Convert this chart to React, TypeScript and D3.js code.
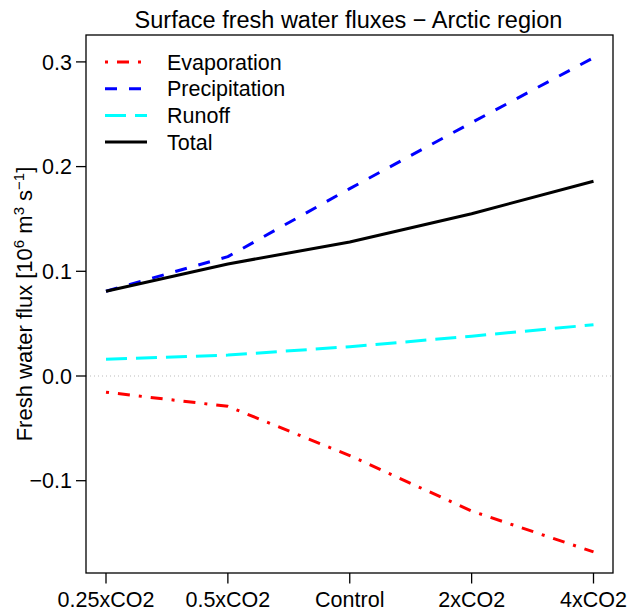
import React from "react";
import * as d3 from "d3";

const scenarios = ["0.25xCO2", "0.5xCO2", "Control", "2xCO2", "4xCO2"];
const evaporation = [-0.0155, -0.029, -0.076, -0.129, -0.168];
const precipitation = [0.081, 0.114, 0.179, 0.242, 0.304];
const runoff = [0.016, 0.02, 0.028, 0.038, 0.049];
const total = [0.081, 0.107, 0.128, 0.155, 0.186];
const yTicks = [-0.1, 0.0, 0.1, 0.2, 0.3];

const series = [
  { name: "Evaporation", values: evaporation, color: "#ff0000", dash: "3,9,12,9" },
  { name: "Precipitation", values: precipitation, color: "#0000ff", dash: "12,12" },
  { name: "Runoff", values: runoff, color: "#00ffff", dash: "21,9" },
  { name: "Total", values: total, color: "#000000", dash: null },
];

const W = 630;
const H = 615;
const left = 86;
const right = 613;
const top = 35;
const bottom = 573;

const App: React.FC = () => {
  const x = d3.scalePoint<string>().domain(scenarios).range([106, 593.5]);
  const y = d3.scaleLinear().domain([0, 0.1]).range([376, 271.3]);

  const line = d3
    .line<number>()
    .x((_, i) => x(scenarios[i]) as number)
    .y((d) => y(d));

  const font = "'Liberation Sans', Arial, Helvetica, sans-serif";

  return (
    <svg
      width={W}
      height={H}
      style={{ position: "absolute", left: 0, top: 0, fontFamily: font }}
    >
      <rect width={W} height={H} fill="#fff" />
      <text x={348.5} y={27.5} textAnchor="middle" fontSize={23.5}>
        Surface fresh water fluxes − Arctic region
      </text>

      {/* zero line */}
      <line
        x1={left}
        x2={right}
        y1={y(0)}
        y2={y(0)}
        stroke="#bbbbbb"
        strokeWidth={1}
        strokeDasharray="1,3"
      />

      {series.map((s) => (
        <path
          key={s.name}
          d={line(s.values) || ""}
          fill="none"
          stroke={s.color}
          strokeWidth={3}
          strokeDasharray={s.dash || undefined}
          strokeLinecap="butt"
          strokeLinejoin="round"
        />
      ))}

      <rect
        x={left}
        y={top}
        width={right - left}
        height={bottom - top}
        fill="none"
        stroke="#000"
        strokeWidth={1.3}
      />

      {/* y axis */}
      {yTicks.map((t) => (
        <g key={t} transform={`translate(0,${y(t)})`}>
          <line x1={left - 10} x2={left} stroke="#000" strokeWidth={1.3} />
          <text x={left - 14} dy="0.36em" textAnchor="end" fontSize={21.5}>
            {t < 0 ? "−" + d3.format(".1f")(-t) : d3.format(".1f")(t)}
          </text>
        </g>
      ))}

      {/* x axis */}
      {scenarios.map((c) => (
        <g key={c} transform={`translate(${x(c)},0)`}>
          <line y1={bottom} y2={bottom + 10.5} stroke="#000" strokeWidth={1.3} />
          <text y={606.7} textAnchor="middle" fontSize={21.5}>
            {c}
          </text>
        </g>
      ))}

      <text
        transform="translate(31.5,304) rotate(-90)"
        textAnchor="middle"
        fontSize={22}
      >
        Fresh water flux [10
        <tspan dy={-8} fontSize={15}>6</tspan>
        <tspan dy={8}> m</tspan>
        <tspan dy={-8} fontSize={15}>3</tspan>
        <tspan dy={8}> s</tspan>
        <tspan dy={-8} fontSize={15}>−1</tspan>
        <tspan dy={8}>]</tspan>
      </text>

      {/* legend */}
      {series.map((s, i) => (
        <g key={s.name} transform={`translate(0,${62 + i * 26.7})`}>
          <line
            x1={105}
            x2={147}
            stroke={s.color}
            strokeWidth={3}
            strokeDasharray={s.dash || undefined}
          />
          <text x={167} dy="0.36em" fontSize={21.5}>
            {s.name}
          </text>
        </g>
      ))}
    </svg>
  );
};

export default App;
